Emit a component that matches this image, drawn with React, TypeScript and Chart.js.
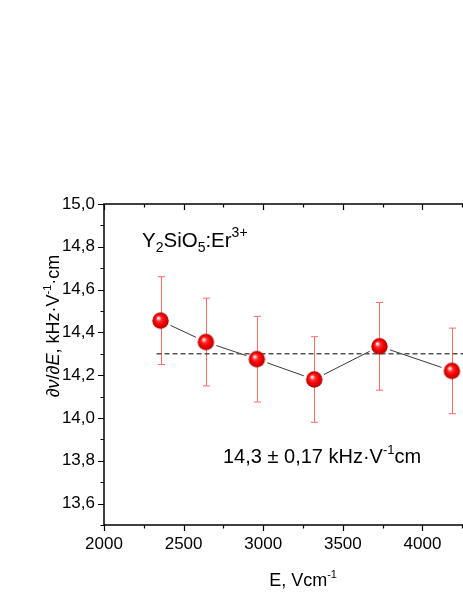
import { useEffect, useRef } from 'react';
import { Chart, registerables } from 'chart.js';
Chart.register(...registerables);

// ---- data ----
const fieldE = [2355, 2640, 2960, 3320, 3730, 4185];
const slope = [14.455, 14.355, 14.275, 14.18, 14.335, 14.22];
const slopeErr = [0.205, 0.205, 0.2, 0.2, 0.205, 0.2];
const meanSlope = 14.3;
const meanFrom = 2330;
const meanTo = 4500;
const xMajorTicks = [2000, 2500, 3000, 3500, 4000, 4500];
const xMinorTicks = [2250, 2750, 3250, 3750, 4250];
const yMajorTicks = [13.6, 13.8, 14.0, 14.2, 14.4, 14.6, 14.8, 15.0];
const yMinorTicks = [13.5, 13.7, 13.9, 14.1, 14.3, 14.5, 14.7, 14.9];
const xRange = [2000, 4500];
const yRange = [13.5, 15.0];

const FONT = '"Liberation Sans", Arial, sans-serif';

type Seg = { t: string; size: number; dy?: number; italic?: boolean };

function drawRich(ctx: CanvasRenderingContext2D, segs: Seg[], x: number, y: number, align: 'left' | 'center') {
  let total = 0;
  const widths = segs.map((s) => {
    ctx.font = `${s.italic ? 'italic ' : ''}${s.size}px ${FONT}`;
    const w = ctx.measureText(s.t).width;
    total += w;
    return w;
  });
  let cx = align === 'center' ? x - total / 2 : x;
  ctx.textBaseline = 'alphabetic';
  ctx.textAlign = 'left';
  segs.forEach((s, i) => {
    ctx.font = `${s.italic ? 'italic ' : ''}${s.size}px ${FONT}`;
    ctx.fillText(s.t, cx, y + (s.dy || 0));
    cx += widths[i];
  });
}

function makeSphere(r: number) {
  const size = Math.ceil(r * 2) + 2;
  const c = document.createElement('canvas');
  c.width = size;
  c.height = size;
  const g = c.getContext('2d')!;
  const cx = size / 2, cy = size / 2;
  const grad = g.createRadialGradient(cx - r * 0.3, cy - r * 0.35, 0, cx, cy, r);
  grad.addColorStop(0, '#ffffff');
  grad.addColorStop(0.12, '#ffd6d6');
  grad.addColorStop(0.32, '#ff3030');
  grad.addColorStop(0.65, '#f20000');
  grad.addColorStop(0.9, '#c80000');
  grad.addColorStop(1, '#a00000');
  g.fillStyle = grad;
  g.beginPath();
  g.arc(cx, cy, r, 0, Math.PI * 2);
  g.fill();
  return c;
}

const decorPlugin = {
  id: 'decor',
  beforeDatasetsDraw(chart: any) {
    const { ctx, scales } = chart;
    const xs = scales.x, ys = scales.y;
    ctx.save();
    // error bars
    ctx.strokeStyle = '#ff6a6a';
    ctx.lineWidth = 1;
    fieldE.forEach((e, i) => {
      const px = Math.round(xs.getPixelForValue(e)) + 0.5;
      const top = ys.getPixelForValue(slope[i] + slopeErr[i]);
      const bot = ys.getPixelForValue(slope[i] - slopeErr[i]);
      ctx.beginPath();
      ctx.moveTo(px, top);
      ctx.lineTo(px, bot);
      ctx.moveTo(px - 3.5, top);
      ctx.lineTo(px + 3.5, top);
      ctx.moveTo(px - 3.5, bot);
      ctx.lineTo(px + 3.5, bot);
      ctx.stroke();
    });
    // connecting line with gaps
    ctx.strokeStyle = '#222';
    ctx.lineWidth = 0.9;
    for (let i = 0; i < fieldE.length - 1; i++) {
      const x1 = xs.getPixelForValue(fieldE[i]), y1 = ys.getPixelForValue(slope[i]);
      const x2 = xs.getPixelForValue(fieldE[i + 1]), y2 = ys.getPixelForValue(slope[i + 1]);
      const dx = x2 - x1, dy = y2 - y1;
      const len = Math.hypot(dx, dy);
      const gap = 11;
      if (len <= 2 * gap) continue;
      const ux = dx / len, uy = dy / len;
      ctx.beginPath();
      ctx.moveTo(x1 + ux * gap, y1 + uy * gap);
      ctx.lineTo(x2 - ux * gap, y2 - uy * gap);
      ctx.stroke();
    }
    ctx.restore();
  },
  afterDraw(chart: any) {
    const { ctx, scales, chartArea: a } = chart;
    const xs = scales.x, ys = scales.y;
    ctx.save();
    ctx.strokeStyle = '#000';
    ctx.lineWidth = 1.5;
    ctx.beginPath();
    ctx.moveTo(a.left, a.bottom);
    ctx.lineTo(a.right, a.bottom);
    ctx.lineTo(a.right, a.top);
    ctx.lineTo(a.left, a.top);
    ctx.closePath();
    ctx.stroke();
    ctx.lineWidth = 1.2;
    ctx.beginPath();
    const xt = (v: number, len: number) => {
      const px = Math.round(xs.getPixelForValue(v)) + 0.5;
      ctx.moveTo(px, a.bottom);
      ctx.lineTo(px, a.bottom + len);
      ctx.moveTo(px, a.top);
      ctx.lineTo(px, a.top + len);
    };
    xMajorTicks.forEach((v) => xt(v, 6));
    xMinorTicks.forEach((v) => xt(v, 3.5));
    const yt = (v: number, len: number) => {
      const py = Math.round(ys.getPixelForValue(v)) + 0.5;
      ctx.moveTo(a.left, py);
      ctx.lineTo(a.left - len, py);
    };
    yMajorTicks.forEach((v) => yt(v, 6));
    yMinorTicks.forEach((v) => yt(v, 3.5));
    ctx.stroke();

    ctx.fillStyle = '#000';
    // x title
    drawRich(ctx, [
      { t: 'E, Vcm', size: 18 },
      { t: '-1', size: 11, dy: -8 },
    ], (a.left + a.right) / 2, 586, 'center');
    // y title (rotated)
    ctx.save();
    ctx.translate(59, 326);
    ctx.rotate(-Math.PI / 2);
    drawRich(ctx, [
      { t: '\u2202', size: 18 },
      { t: '\u03bd', size: 18, italic: true },
      { t: '/\u2202', size: 18 },
      { t: 'E', size: 18, italic: true },
      { t: ', kHz\u00b7V', size: 18 },
      { t: '-1', size: 11, dy: -8 },
      { t: '\u00b7cm', size: 18 },
    ], 0, 0, 'center');
    ctx.restore();
    // annotations
    drawRich(ctx, [
      { t: 'Y', size: 20.5 },
      { t: '2', size: 14, dy: 5 },
      { t: 'SiO', size: 20.5 },
      { t: '5', size: 14, dy: 5 },
      { t: ':Er', size: 20.5 },
      { t: '3+', size: 14, dy: -10 },
    ], 142, 247, 'left');
    drawRich(ctx, [
      { t: '14,3 \u00b1 0,17 kHz\u00b7V', size: 20 },
      { t: '-1', size: 13, dy: -9 },
      { t: 'cm', size: 20 },
    ], 223, 463, 'left');
    ctx.restore();
  },
};

export default function App() {
  const ref = useRef<HTMLCanvasElement | null>(null);
  useEffect(() => {
    if (!ref.current) return;
    const sphere = makeSphere(8.2);
    const chart = new Chart(ref.current, {
      type: 'scatter',
      data: {
        datasets: [
          {
            data: fieldE.map((e, i) => ({ x: e, y: slope[i] })),
            pointStyle: sphere as any,
            pointRadius: 8,
            showLine: false,
          },
          {
            data: [{ x: meanFrom, y: meanSlope }, { x: meanTo, y: meanSlope }],
            showLine: true,
            borderColor: '#555',
            borderWidth: 1.4,
            borderDash: [5, 3],
            pointRadius: 0,
          } as any,
        ],
      },
      options: {
        responsive: false,
        animation: false,
        devicePixelRatio: 1,
        layout: { padding: { left: 0, top: 204, right: 26, bottom: 0 } },
        plugins: { legend: { display: false }, tooltip: { enabled: false } },
        scales: {
          x: {
            type: 'linear',
            min: xRange[0],
            max: xRange[1],
            grid: { display: false, drawTicks: false },
            border: { display: false },
            afterBuildTicks: (s: any) => { s.ticks = xMajorTicks.map((v) => ({ value: v })); },
            afterFit: (s: any) => { s.height = 74; },
            ticks: {
              padding: 9,
              color: '#000',
              font: { family: FONT, size: 17 },
              maxRotation: 0,
              autoSkip: false,
              callback: (v: any) => String(v),
            },
          },
          y: {
            type: 'linear',
            min: yRange[0],
            max: yRange[1],
            grid: { display: false, drawTicks: false },
            border: { display: false },
            afterBuildTicks: (s: any) => { s.ticks = yMajorTicks.map((v) => ({ value: v })); },
            afterFit: (s: any) => { s.width = 104; },
            ticks: {
              padding: 9,
              color: '#000',
              font: { family: FONT, size: 17 },
              autoSkip: false,
              callback: (v: any) => Number(v).toFixed(1).replace('.', ','),
            },
          },
        },
      },
      plugins: [decorPlugin],
    });
    return () => chart.destroy();
  }, []);
  return (
    <div style={{ position: 'fixed', left: 0, top: 0, width: 463, height: 599, overflow: 'hidden', background: '#fff' }}>
      <canvas ref={ref} width={530} height={599} style={{ display: 'block' }} />
    </div>
  );
}
